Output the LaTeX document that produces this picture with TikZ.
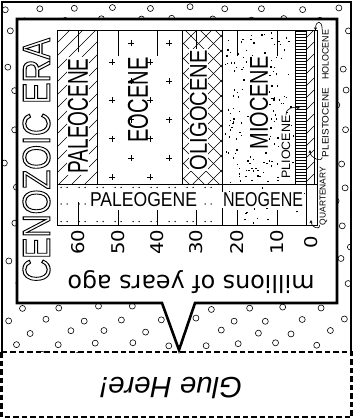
\documentclass[tikz,border=0pt]{standalone}
\usepackage{graphicx}
\usepackage{fontspec}
\setmainfont{Liberation Sans}
\newfontfamily\dejavu{DejaVu Sans}
\usetikzlibrary{arrows.meta}
\newcommand{\outlinetext}[1]{\special{pdf:literal direct 1 Tr 0.28 w}#1\special{pdf:literal direct 0 Tr}}
\begin{document}
\begin{tikzpicture}[x=1pt,y=-1pt,
  patt/.style={line width=0.5pt},
  lab/.style={inner sep=0pt,outer sep=0pt},
  wlab/.style={inner sep=1.2pt,outer sep=0pt,fill=white},
  hook/.style={line width=0.6pt,-{Stealth[length=3.2pt,width=3pt]}},
  bgdot/.style={draw,line width=0.6pt,fill=white},
  tickmark/.style={line width=1pt},
  divider/.style={line width=0.8pt}]
\useasboundingbox (0,0) rectangle (353,419);

% background circles
\begin{scope}
  \clip (2,2) rectangle (351,352);
  \pgfmathsetseed{11}
  \foreach \j in {0,...,29}{
    \foreach \i in {0,...,9}{
      \pgfmathsetmacro\cx{4+37*\i+mod(\j*23,37)+rnd*8-4}
      \pgfmathsetmacro\cy{8+12*\j+rnd*4-2}
      \draw[bgdot] (\cx,\cy) circle[radius=3];
    }
  }
\end{scope}

% outer frame and glue tab
\draw[line width=2.6pt] (2,352) -- (2,2) -- (351,2) -- (351,352);
\draw[line width=2.2pt,dash pattern=on 5.5pt off 3pt] (1.5,352) rectangle (351.5,417);

% callout
\draw[line width=2.6pt,fill=white,line join=miter] (17,19) -- (337,19) -- (337,303) -- (195,303) -- (179,350) -- (162,303) -- (17,303) -- cycle;

% Paleocene hatch
\begin{scope}
  \clip (57,30) rectangle (97,184);
  \foreach \k in {0,...,15} \draw[patt] (-97+13*\k,184) -- ++(154,-154);
\end{scope}
% Eocene pluses
\foreach \r in {0,...,7}{
  \pgfmathsetmacro\py{43+19.15*\r}
  \pgfmathsetmacro\xa{131-19*mod(\r,2)}
  \pgfmathsetmacro\xb{\xa+38}
  \foreach \px in {\xa,\xb} \draw[line width=0.6pt] (\px-3,\py) -- (\px+3,\py) (\px,\py-3) -- (\px,\py+3);
}
% Oligocene crosshatch
\begin{scope}
  \clip (182,30) rectangle (222,184);
  \foreach \k in {0,...,14} \draw[patt] (20+15*\k,30) -- ++(160,160);
  \foreach \k in {0,...,14} \draw[patt] (182+15*\k,30) -- ++(-160,160);
\end{scope}
% Miocene dots
\pgfmathsetseed{5}
\foreach \n in {1,...,170}{
  \pgfmathsetmacro\dx{224+rnd*69}
  \pgfmathsetmacro\dy{32+rnd*150}
  \fill (\dx,\dy) rectangle ++(1.4,1.4);
}
% Pliocene stripes
\foreach \yy in {31.5,34.5,...,183} \draw[patt] (295,\yy) -- (306,\yy);
% Pleistocene hatch
\begin{scope}
  \clip (306,30) rectangle (314,184);
  \foreach \yy in {38,50,...,194} \draw[patt] (306,\yy) -- (314,\yy-8);
\end{scope}
% Paleogene band dots
\foreach \yy in {187.5,204,221.5}{
  \foreach \xx in {61,67,...,217}{
    \pgfmathtruncatemacro\m{mod(\xx-61,18)}
    \ifnum\m<12 \fill (\xx,\yy) circle[radius=0.75]; \fi
  }
}
% Neogene band dots
\pgfmathsetseed{9}
\foreach \n in {1,...,35}{
  \pgfmathsetmacro\dx{224+rnd*80}
  \pgfmathsetmacro\dy{186+rnd*37}
  \fill (\dx,\dy) rectangle ++(1.3,1.3);
}

% chart lines
\draw[divider] (57,30) rectangle (317,225);
\draw[divider] (57,184) -- (317,184);
\foreach \xx in {97,182,222,295,306,314} \draw[divider] (\xx,30) -- (\xx,184);
\foreach \xx in {222,306} \draw[divider] (\xx,184) -- (\xx,225);

% ticks
\draw[tickmark] (78,30) -- (78,52);
\foreach \xx in {118,157,196,237,277} \draw[tickmark] (\xx,30) -- (\xx,56);
\draw[tickmark] (78,225) -- (78,202);
\foreach \xx in {118,157,196,237,277} \draw[tickmark] (\xx,225) -- (\xx,210);

% epoch labels
\node[wlab,rotate=90] (paleo) at (78,116) {\resizebox{115pt}{20pt}{PALEOCENE}};
\node[lab,rotate=90] (eo) at (138,100) {\resizebox{85pt}{20pt}{EOCENE}};
\node[wlab,rotate=90] (oligo) at (198.5,110) {\resizebox{120pt}{17pt}{OLIGOCENE}};
\node[wlab,rotate=90,inner sep=0.5pt] (mio) at (259,103) {\resizebox{93pt}{18pt}{MIOCENE}};
\node[wlab,rotate=90,inner sep=0.5pt] (plio) at (286,147) {\resizebox{63pt}{8.5pt}{PLIOCENE}};
\node[wlab] (pg) at (143.5,199.5) {\resizebox{107pt}{14pt}{PALEOGENE}};
\node[wlab] (ng) at (263,200) {\resizebox{80pt}{14pt}{NEOGENE}};

% right labels
\node[lab,rotate=90] (holo) at (325.5,55) {\resizebox{50pt}{6.5pt}{HOLOCENE}};
\node[lab,rotate=90] (pleis) at (325.5,122.5) {\resizebox{69pt}{6.5pt}{PLEISTOCENE}};
\node[lab,rotate=90] (quat) at (323.5,196) {\resizebox{58pt}{6pt}{QUARTENARY}};
\coordinate (holoTip) at (315.5,30.5);
\coordinate (plioTip) at (300,108);
\coordinate (pleisTip) at (310,150);
\coordinate (quatTip) at (311,220);
\draw[hook] (holo.north east) .. controls +(0,-11) and +(0,-10) .. (holoTip);
\draw[hook] (plio.east) .. controls +(0,-8) and +(-6,-1) .. (plioTip);
\draw[hook] (pleis.north west) .. controls +(0,6) and +(0,8) .. (pleisTip);
\draw[hook] (quat.north west) .. controls +(0,6) and +(0,7) .. (quatTip);

% tick labels
\foreach \xx/\t/\nm in {78/60/a,118/50/b,157/40/c,196/30/d,237/20/e,277/10/f}
  \node[lab,rotate=90] (t\nm) at (\xx,242) {\resizebox{25pt}{13pt}{\dejavu \t}};
\node[lab,rotate=90] (t0) at (311,242) {\resizebox{12.5pt}{13pt}{\dejavu 0}};

% axis title
\node[lab,rotate=180] (myr) at (191,282.5) {\resizebox{247pt}{!}{\dejavu millions of years ago}};

% glue tab text
\node[lab,rotate=180] (glue) at (171,388) {\resizebox{142pt}{!}{\itshape Glue Here!}};

% era label (outlined)
\node[lab,rotate=90] (era) at (36.5,160) {\resizebox{244pt}{27pt}{\outlinetext{CENOZOIC ERA}}};
\end{tikzpicture}
\end{document}
